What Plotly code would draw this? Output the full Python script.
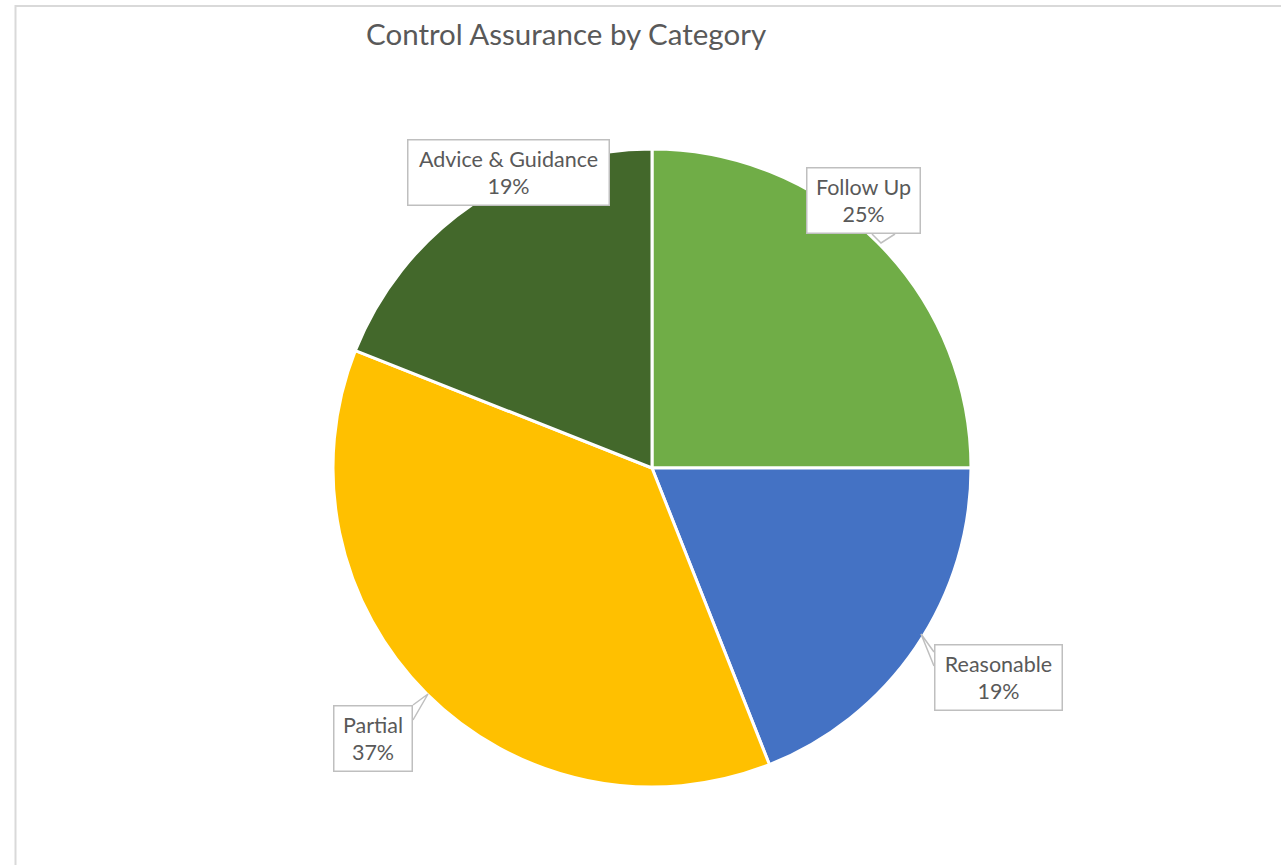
import plotly.graph_objects as go

# ---- data ----
categories = ["Follow Up", "Reasonable", "Partial", "Advice & Guidance"]
values = [25, 19, 37, 19]
colors = ["#70AD47", "#4472C4", "#FFC000", "#43682B"]
title_text = "Control Assurance by Category"

W, H = 1281, 865
cx, cy, r = 652, 468, 319

def px(x):
    return x / W

def py(y):
    return 1 - y / H

fig = go.Figure()
fig.add_trace(go.Pie(
    labels=categories,
    values=values,
    sort=False,
    direction="clockwise",
    rotation=0,
    marker=dict(colors=colors, line=dict(color="white", width=3)),
    textinfo="none",
    hoverinfo="label+percent",
    showlegend=False,
    domain=dict(x=[px(cx - r), px(cx + r)], y=[py(cy + r), py(cy - r)]),
))

total = sum(values)
# label box layout: (center x, center y, box width) in pixels
label_layout = {
    "Follow Up": (863, 201, 115),
    "Reasonable": (998, 677, 129),
    "Partial": (373, 738, 80),
    "Advice & Guidance": (508, 172, 203),
}

FONT = "Lato, Carlito, Calibri, sans-serif"
annotations = []
shapes = []
for cat, v in zip(categories, values):
    x, y, bw = label_layout[cat]
    pct = round(v / total * 100)
    annotations.append(dict(
        x=px(x), y=py(y), xref="paper", yref="paper",
        text=f"{cat}<br>{pct}%", showarrow=False,
        font=dict(family=FONT, size=21.5, color="#595959"),
        bgcolor="white", bordercolor="#BFBFBF", borderwidth=1.5, borderpad=2,
        width=bw - 7, height=60, align="center", xanchor="center", yanchor="middle",
    ))

# callout tails
tails = [
    [(872, 234), (881, 243), (895, 234)],   # Follow Up
    [(934, 666), (921, 634), (934, 652)],   # Reasonable
    [(413, 720), (428, 694), (413, 705)],   # Partial
]
for pts in tails:
    path = "M {},{} L {},{} L {},{}".format(
        px(pts[0][0]), py(pts[0][1]), px(pts[1][0]), py(pts[1][1]), px(pts[2][0]), py(pts[2][1]))
    shapes.append(dict(type="path", xref="paper", yref="paper", path=path,
                       line=dict(color="#BFBFBF", width=1.5), fillcolor="white"))

# chart-area border (top and left visible)
shapes.append(dict(type="rect", xref="paper", yref="paper",
                   x0=px(15.5), y0=py(880), x1=px(1300), y1=py(6),
                   line=dict(color="#D9D9D9", width=2), fillcolor="rgba(0,0,0,0)", layer="below"))

annotations.append(dict(
    x=px(566), y=py(34), xref="paper", yref="paper", showarrow=False,
    text=title_text, xanchor="center", yanchor="middle",
    font=dict(family=FONT, size=29.5, color="#595959"),
))

fig.update_layout(
    width=W, height=H,
    margin=dict(l=0, r=0, t=0, b=0),
    paper_bgcolor="white", plot_bgcolor="white",
    annotations=annotations, shapes=shapes,
)

fig.write_html("out.html", config={"displayModeBar": False},
               post_script="document.body.style.margin='0px';document.body.style.overflow='hidden';")
